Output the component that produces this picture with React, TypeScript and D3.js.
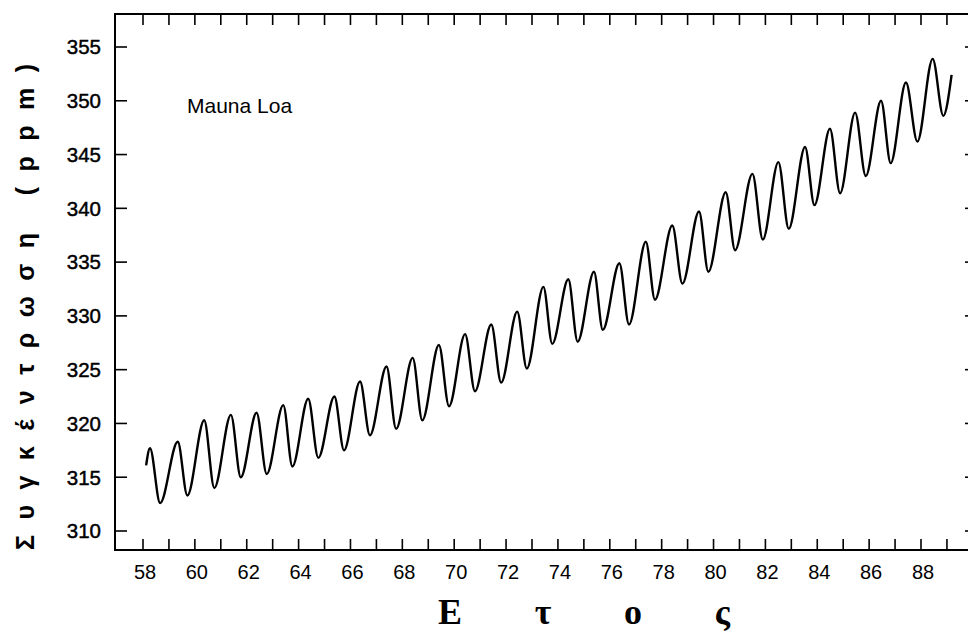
import * as d3 from "d3";

// time of each turning point (year of century) and the CO2 value
const years = [
  58.12, 58.27, 58.66, 59.34, 59.71, 60.36, 60.75, 61.39, 61.77, 62.38, 62.77,
  63.41, 63.76, 64.37, 64.76, 65.38, 65.75, 66.37, 66.75, 67.39, 67.76, 68.4,
  68.77, 69.41, 69.8, 70.42, 70.8, 71.43, 71.81, 72.43, 72.8, 73.44, 73.78,
  74.4, 74.76, 75.39, 75.73, 76.37, 76.74, 77.39, 77.74, 78.41, 78.8, 79.44,
  79.8, 80.47, 80.83, 81.5, 81.9, 82.5, 82.9, 83.53, 83.89, 84.49, 84.88,
  85.46, 85.87, 86.46, 86.83, 87.42, 87.86, 88.45, 88.86, 89.18,
];
const co2 = [
  316.1, 317.7, 312.6, 318.3, 313.3, 320.3, 314.0, 320.8, 315.0, 321.0, 315.3,
  321.7, 316.0, 322.3, 316.8, 322.5, 317.5, 323.9, 318.9, 325.3, 319.5, 326.1,
  320.3, 327.3, 321.6, 328.3, 323.0, 329.2, 323.8, 330.4, 325.1, 332.7, 327.4,
  333.4, 327.6, 334.1, 328.7, 334.9, 329.2, 336.9, 331.5, 338.4, 333.0, 339.7,
  334.1, 341.5, 336.1, 343.2, 337.1, 344.3, 338.1, 345.7, 340.3, 347.4, 341.4,
  348.9, 343.0, 350.0, 344.2, 351.7, 346.2, 353.9, 348.6, 352.4,
];
const yTicks = [310, 315, 320, 325, 330, 335, 340, 345, 350, 355];
const xTickLabels = [58, 60, 62, 64, 66, 68, 70, 72, 74, 76, 78, 80, 82, 84, 86, 88];
const xMinorTicks = d3.range(58, 90);

const W = 968;
const H = 631;
const frame = { left: 115, top: 14, right: 975, bottom: 550 };
const sans = "'Liberation Sans', Arial, Helvetica, sans-serif";

export default function App() {
  const x = d3.scaleLinear().domain([58, 88]).range([143, 921]);
  const y = d3.scaleLinear().domain([310, 355]).range([531, 47]);

  const pts = years.map((t, i) => [t, co2[i]] as [number, number]);
  const line = d3
    .line<[number, number]>()
    .x((d) => x(d[0]))
    .y((d) => y(d[1]))
    .curve(d3.curveMonotoneX);

  return (
    <svg
      width={W}
      height={H}
      style={{ position: "absolute", left: 0, top: 0, background: "#fff" }}
    >
      <rect x={0} y={0} width={W} height={H} fill="#fff" />
      {/* frame */}
      <rect
        x={frame.left}
        y={frame.top}
        width={frame.right - frame.left}
        height={frame.bottom - frame.top}
        fill="none"
        stroke="#000"
        strokeWidth={2}
      />
      {/* year ticks top & bottom */}
      {xMinorTicks.map((t) => (
        <g key={t} stroke="#000" strokeWidth={1.6}>
          <line x1={x(t)} x2={x(t)} y1={frame.top} y2={frame.top + 11} />
          <line x1={x(t)} x2={x(t)} y1={frame.bottom} y2={frame.bottom - 11} />
        </g>
      ))}
      {/* value ticks left & right */}
      {yTicks.map((v) => (
        <g key={v} stroke="#000" strokeWidth={1.6}>
          <line x1={frame.left} x2={frame.left + 12} y1={y(v)} y2={y(v)} />
          <line x1={frame.right} x2={frame.right - 10} y1={y(v)} y2={y(v)} />
        </g>
      ))}
      {yTicks.map((v) => (
        <text
          key={v}
          x={101}
          y={y(v)}
          dy="0.36em"
          textAnchor="end"
          fontFamily={sans}
          fontSize={20.5}
          stroke="#000"
          strokeWidth={0.45}
        >
          {v}
        </text>
      ))}
      {xTickLabels.map((t) => (
        <text
          key={t}
          x={x(t) + 2}
          y={579}
          textAnchor="middle"
          fontFamily={sans}
          fontSize={20}
        >
          {t}
        </text>
      ))}
      <path
        d={line(pts) ?? ""}
        fill="none"
        stroke="#000"
        strokeWidth={2.4}
        strokeLinejoin="round"
      />
      <text x={187} y={113} fontFamily={sans} fontSize={21}>
        Mauna Loa
      </text>
      <text
        x={438}
        y={624}
        fontFamily="'Liberation Serif', 'Times New Roman', serif"
        fontWeight="bold"
        fontSize={36}
        textLength={292}
        lengthAdjust="spacing"
      >
        Ετος
      </text>
      <text
        transform="translate(34,550) rotate(-90)"
        fontFamily={sans}
        fontWeight="bold"
        fontSize={25}
        textLength={486}
        lengthAdjust="spacing"
      >
        Συγκέντρωση  (ppm)
      </text>
    </svg>
  );
}
